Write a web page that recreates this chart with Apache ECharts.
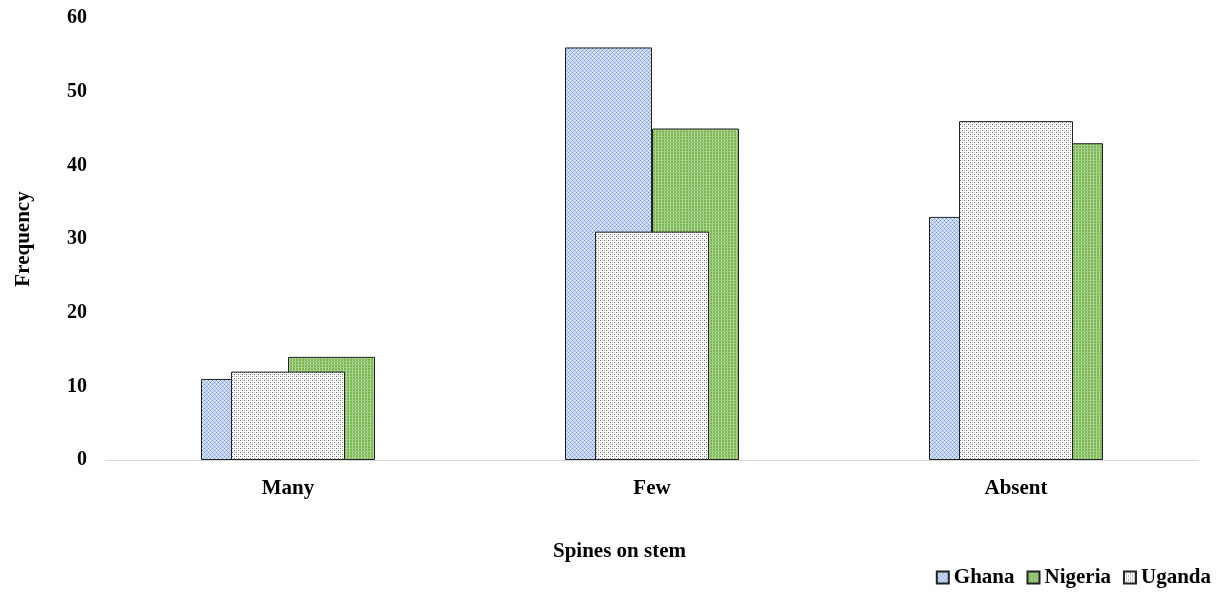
<!DOCTYPE html>
<html>
<head>
<meta charset="utf-8">
<script src="https://cdn.jsdelivr.net/npm/echarts@6/dist/echarts.min.js"></script>
<style>
  html, body { margin: 0; padding: 0; background: #fff; }
  #chart { width: 1231px; height: 592px; }
</style>
</head>
<body>
<div id="chart"></div>
<script>
// Categories and frequencies per country
const categories = ['Many', 'Few', 'Absent'];
const ghana = [11, 56, 33];
const nigeria = [14, 45, 43];
const uganda = [12, 31, 46];
const yTicks = { min: 0, max: 60, interval: 10 };

// Small repeating fill tiles drawn on canvas
function tile(size, bg, draw) {
  const c = document.createElement('canvas');
  c.width = size; c.height = size;
  const g = c.getContext('2d');
  g.fillStyle = bg; g.fillRect(0, 0, size, size);
  draw(g);
  return c;
}
const ghanaFill = tile(4, '#d3dff3', g => {
  g.fillStyle = '#6d91d4';
  g.fillRect(0, 0, 1, 1); g.fillRect(2, 2, 1, 1);
  g.fillStyle = '#a9bfe8';
  g.fillRect(1, 1, 1, 1); g.fillRect(3, 3, 1, 1);
  g.fillRect(3, 1, 1, 1); g.fillRect(1, 3, 1, 1);
});
const nigeriaFill = tile(3, '#7ab554', g => {
  g.fillStyle = '#b6db9d';
  g.fillRect(1, 0, 1, 3);
  g.fillStyle = '#9fcc80';
  g.fillRect(0, 1, 3, 1);
});
const ugandaFill = tile(4, '#ffffff', g => {
  g.fillStyle = '#6a6a6a';
  g.fillRect(0, 0, 1, 1); g.fillRect(2, 2, 1, 1);
  g.fillStyle = '#d0d0d0';
  g.fillRect(2, 0, 1, 1); g.fillRect(0, 2, 1, 1);
});

const font = '"Liberation Serif", "Times New Roman", serif';
const chart = echarts.init(document.getElementById('chart'));

chart.setOption({
  backgroundColor: '#ffffff',
  animation: false,
  textStyle: { fontFamily: font },
  grid: { left: 106, right: 33, top: 18, bottom: 132, containLabel: false, outerBoundsMode: 'none' },
  title: {
    text: 'Spines on stem',
    left: 548, top: 536,
    textStyle: { fontFamily: font, fontWeight: 'bold', fontSize: 21, color: '#000' }
  },
  legend: {
    right: 15, top: 562,
    itemWidth: 12, itemHeight: 12, itemGap: 12,
    icon: 'rect',
    textStyle: { fontFamily: font, fontWeight: 'bold', fontSize: 21, color: '#000', padding: [0, 0, 0, 0] },
    data: ['Ghana', 'Nigeria', 'Uganda']
  },
  xAxis: [
    {
      type: 'category', data: categories,
      axisLine: { lineStyle: { color: '#d9d9d9', width: 1 } },
      axisTick: { show: false },
      axisLabel: { color: '#000', fontWeight: 'bold', fontSize: 21, fontFamily: font, margin: 18 }
    },
    {
      type: 'category', data: categories, show: false
    }
  ],
  yAxis: {
    type: 'value', min: yTicks.min, max: yTicks.max, interval: yTicks.interval,
    name: 'Frequency', nameLocation: 'middle', nameGap: 72, nameRotate: 90,
    nameTextStyle: { color: '#000', fontWeight: 'bold', fontSize: 21, fontFamily: font },
    axisLine: { show: false }, axisTick: { show: false },
    splitLine: { show: false },
    axisLabel: { color: '#000', fontWeight: 'bold', fontSize: 20, fontFamily: font, margin: 19 }
  },
  series: [
    {
      name: 'Ghana', type: 'bar', xAxisIndex: 0, data: ghana,
      barWidth: 87, barGap: '0%',
      itemStyle: { color: { image: ghanaFill, repeat: 'repeat' }, borderColor: '#222', borderWidth: 1 }
    },
    {
      name: 'Nigeria', type: 'bar', xAxisIndex: 0, data: nigeria,
      barWidth: 87, barGap: '0%',
      itemStyle: { color: { image: nigeriaFill, repeat: 'repeat' }, borderColor: '#222', borderWidth: 1 }
    },
    {
      name: 'Uganda', type: 'bar', xAxisIndex: 1, data: uganda,
      barWidth: 114, z: 5,
      itemStyle: { color: { image: ugandaFill, repeat: 'repeat' }, borderColor: '#222', borderWidth: 1 }
    }
  ]
});
</script>
</body>
</html>
